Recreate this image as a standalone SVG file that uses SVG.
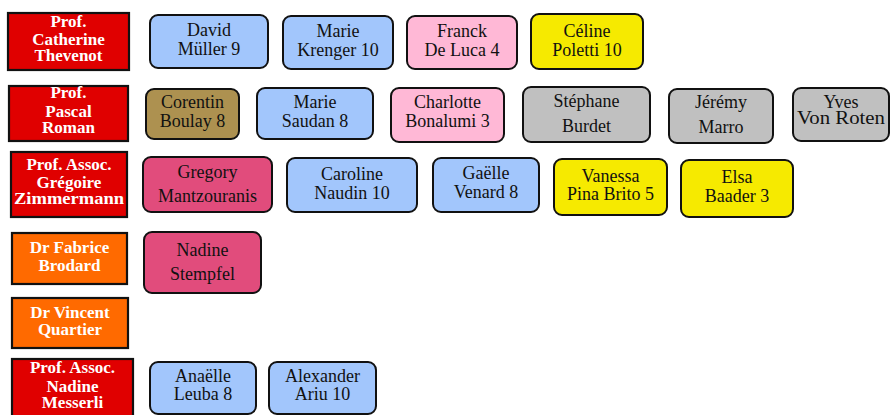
<svg xmlns="http://www.w3.org/2000/svg" width="891" height="415" viewBox="0 0 891 415">
<style>
.h rect{fill:#e00000;stroke:#111;stroke-width:2.2}
.h.o rect{fill:#ff6a00}
.h text{font-family:"Liberation Serif","Times New Roman",serif;font-weight:bold;font-size:17px;fill:#fff;text-anchor:middle}
.n rect{stroke:#111;stroke-width:2;rx:8;ry:8}
.n text{font-family:"Liberation Serif","Times New Roman",serif;font-size:18px;fill:#111;text-anchor:middle}
.b rect{fill:#a2c6fc}
.p rect{fill:#ffb8d6}
.y rect{fill:#f6ea00}
.g rect{fill:#c0c0c0}
.k rect{fill:#ad9150}
.d rect{fill:#e14c7c}
</style>
<rect width="891" height="415" fill="#fff"/>
<g id="connectors"></g>

<g id="catherine" class="h"><rect x="8" y="13" width="121" height="57"/><text x="68.5" y="27">Prof.</text><text x="68.5" y="45">Catherine</text><text x="68.5" y="61">Thevenot</text></g>
<g id="david" class="n b"><rect x="150" y="15" width="118" height="53"/><text x="209" y="36">David</text><text x="209" y="55">Müller 9</text></g>
<g id="marie-k" class="n b"><rect x="283" y="16" width="110" height="53"/><text x="338" y="37">Marie</text><text x="338" y="56">Krenger 10</text></g>
<g id="franck" class="n p"><rect x="407" y="16" width="110" height="53"/><text x="462" y="37">Franck</text><text x="462" y="56">De Luca 4</text></g>
<g id="celine" class="n y"><rect x="531" y="14" width="112" height="55"/><text x="587" y="37">Céline</text><text x="587" y="56">Poletti 10</text></g>

<g id="pascal" class="h"><rect x="9" y="86" width="119" height="55"/><text x="68.5" y="98">Prof.</text><text x="68.5" y="117">Pascal</text><text x="68.5" y="133">Roman</text></g>
<g id="corentin" class="n k"><rect x="146" y="89" width="93" height="50"/><text x="192.5" y="108">Corentin</text><text x="192.5" y="127">Boulay 8</text></g>
<g id="marie-s" class="n b"><rect x="257" y="88" width="116" height="51"/><text x="315" y="108">Marie</text><text x="315" y="127">Saudan 8</text></g>
<g id="charlotte" class="n p"><rect x="391" y="88" width="113" height="54"/><text x="447.5" y="108">Charlotte</text><text x="447.5" y="127">Bonalumi 3</text></g>
<g id="stephane" class="n g"><rect x="523" y="87" width="127" height="55"/><text x="586.5" y="107">Stéphane</text><text x="586.5" y="132">Burdet</text></g>
<g id="jeremy" class="n g"><rect x="669" y="89" width="104" height="54"/><text x="721" y="108">Jérémy</text><text x="721" y="133">Marro</text></g>
<g id="yves" class="n g"><rect x="793" y="88" width="96" height="53"/><text x="841" y="108">Yves</text><text x="841" y="124" textLength="88" lengthAdjust="spacingAndGlyphs">Von Roten</text></g>

<g id="gregoire" class="h"><rect x="11" y="152" width="116" height="65"/><text x="69" y="170">Prof. Assoc.</text><text x="69" y="188">Grégoire</text><text x="69" y="204" textLength="110" lengthAdjust="spacingAndGlyphs">Zimmermann</text></g>
<g id="gregory" class="n d"><rect x="143" y="157" width="129" height="55"/><text x="207.5" y="178">Gregory</text><text x="207.5" y="202">Mantzouranis</text></g>
<g id="caroline" class="n b"><rect x="287" y="158" width="130" height="54"/><text x="352" y="180">Caroline</text><text x="352" y="199">Naudin 10</text></g>
<g id="gaelle" class="n b"><rect x="433" y="158" width="106" height="54"/><text x="486" y="179">Gaëlle</text><text x="486" y="198">Venard 8</text></g>
<g id="vanessa" class="n y"><rect x="554" y="159" width="113" height="56"/><text x="610.5" y="182">Vanessa</text><text x="610.5" y="200">Pina Brito 5</text></g>
<g id="elsa" class="n y"><rect x="681" y="160" width="112" height="57"/><text x="737" y="183">Elsa</text><text x="737" y="202">Baader 3</text></g>

<g id="fabrice" class="h o"><rect x="12" y="233" width="115" height="51"/><text x="69.5" y="253">Dr Fabrice</text><text x="69.5" y="271">Brodard</text></g>
<g id="nadine-s" class="n d"><rect x="144" y="232" width="117" height="61"/><text x="202.5" y="256">Nadine</text><text x="202.5" y="280">Stempfel</text></g>

<g id="vincent" class="h o"><rect x="12" y="298" width="116" height="50"/><text x="70" y="318">Dr Vincent</text><text x="70" y="335">Quartier</text></g>

<g id="nadine-m" class="h"><rect x="12" y="359" width="121" height="60"/><text x="72.5" y="373">Prof. Assoc.</text><text x="72.5" y="392">Nadine</text><text x="72.5" y="408">Messerli</text></g>
<g id="anaelle" class="n b"><rect x="150" y="362" width="106" height="52"/><text x="203" y="382">Anaëlle</text><text x="203" y="400">Leuba 8</text></g>
<g id="alexander" class="n b"><rect x="269" y="362" width="107" height="52"/><text x="322.5" y="382">Alexander</text><text x="322.5" y="400">Ariu 10</text></g>
</svg>
